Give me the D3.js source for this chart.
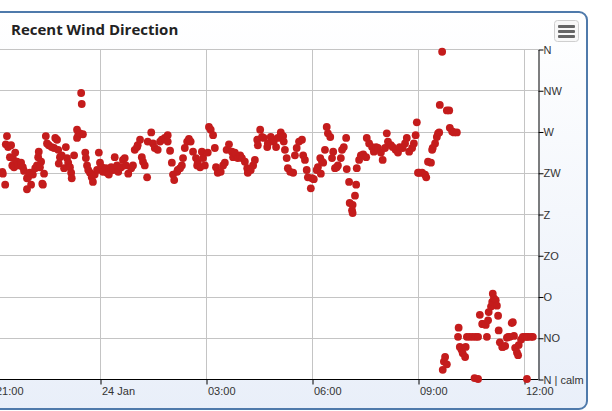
<!DOCTYPE html>
<html>
<head>
<meta charset="utf-8">
<script src="https://cdn.jsdelivr.net/npm/d3@7"></script>
<style>
  html, body { margin: 0; padding: 0; background: #ffffff; }
  svg { display: block; }
</style>
</head>
<body>
<svg id="chart" width="612" height="411"></svg>
<script>
// ---------------- data ----------------
const chartTitle = "Recent Wind Direction";
// time of each reading, in minutes after 23 Jan 21:00
const minutesSince2100 = [
  14,15,19,22,20,24,29,27,32,36,31,34,39,41,46,49,51,56,58,56,63,61,66,70,73,75,76,80,78,82,83,85,
  88,90,93,98,102,104,107,109,112,115,110,119,122,124,126,129,131,132,136,141,143,141,146,151,148,149,
  155,156,158,160,163,166,168,171,175,178,180,183,185,190,192,195,199,202,205,209,211,216,219,222,224,
  228,233,236,239,243,244,
  248,251,253,256,260,261,267,270,273,278,282,285,290,295,295,299,302,304,306,311,312,316,319,321,324,
  328,331,334,338,343,345,346,350,353,355,358,363,365,368,372,375,377,380,385,389,392,395,399,404,406,
  409,414,418,421,426,430,431,436,440,443,447,448,452,455,458,464,465,470,474,
  475,479,482,487,491,492,494,497,499,503,508,511,514,518,523,525,528,531,533,540,543,538,548,550,554,
  557,559,555,562,565,567,571,574,576,579,582,584,589,591,594,598,599,603,604,608,609,609,613,615,616,
  620,623,627,632,633,637,642,645,649,652,657,660,664,667,669,674,677,682,686,689,694,698,701,705,710,
  713,716,718,720,
  722,727,732,734,737,742,744,745,749,752,754,756,757,761,769,773,774,778,781,786,
  762,764,766,769,788,789,791,794,796,800,801,803,808,813,818,822,816,822,825,829,830,835,837,839,840,
  844,846,847,849,852,854,856,857,859,863,864,868,871,873,876,879,881,883,885,888,890,891,895,898,902,
  905,907,912,915,905
];
// wind direction of each reading, in degrees (0 = N / calm, 360 = N)
const directionDeg = [
  226,224,212,265,256,253,255,242,241,247,233,231,237,233,236,231,227,219,220,207,212,225,223,230,233,242,248,237,231,213,212,224,
  265,257,255,253,252,263,261,250,242,244,235,230,253,241,236,231,225,219,244,272,266,263,268,267,312,300,
  247,241,233,228,225,220,215,223,228,247,236,231,226,230,225,223,231,228,242,233,226,231,239,241,233,
  224,230,233,250,253,255,
  261,242,237,233,220,259,269,257,252,250,259,261,263,266,259,249,236,223,217,226,228,230,233,241,252,
  259,262,259,248,241,233,236,231,248,241,233,247,275,272,266,252,231,225,226,233,236,250,256,248,242,
  247,241,244,241,237,230,225,228,233,239,261,255,272,264,263,253,257,264,261,
  259,253,263,269,265,259,250,241,230,226,225,244,252,259,261,244,239,228,220,219,218,208,228,231,241,
  237,236,224,250,275,268,264,241,248,230,231,233,241,250,253,263,229,215,192,184,181,190,200,212,230,
  239,244,245,242,263,257,253,248,253,252,247,239,252,268,259,255,253,250,247,253,252,257,263,248,252,
  257,266,280,225,
  225,225,223,220,237,236,250,252,257,264,268,269,299,357,293,293,274,270,269,269,
  10,19,24,16,46,56,35,32,28,24,35,46,46,46,46,46,1,0,70,60,60,59,46,64,73,
  79,84,93,88,86,80,69,53,40,35,35,36,45,46,46,61,62,47,34,29,26,37,43,46,46,
  46,46,46,46,0
];
// axis labels
const directionTickValues = [0, 45, 90, 135, 180, 225, 270, 315, 360];
const directionTickLabels = ["N | calm", "NO", "O", "ZO", "Z", "ZW", "W", "NW", "N"];
const timeTickHours = ["21:00", "24 Jan", "03:00", "06:00", "09:00", "12:00"];

// ---------------- layout ----------------
const svg = d3.select("#chart");
const plotLeft = -60, plotRight = 538, plotTop = 49, plotBottom = 379;
const start = new Date(2024, 0, 23, 21, 0);
const t = m => new Date(start.getTime() + m * 60000);

const x = d3.scaleTime()
  .domain([new Date(2024, 0, 23, 21, 0), new Date(2024, 0, 24, 12, 0)])
  .range([-6, 524]);
const y = d3.scaleLinear().domain([0, 360]).range([plotBottom, plotTop]);

const points = minutesSince2100.map((m, i) => ({ time: t(m), dir: directionDeg[i] }));

// card background
const defs = svg.append("defs");
const grad = defs.append("linearGradient").attr("id", "bg").attr("x1", 0).attr("y1", 0).attr("x2", 0).attr("y2", 1);
grad.append("stop").attr("offset", "0%").attr("stop-color", "#ffffff");
grad.append("stop").attr("offset", "100%").attr("stop-color", "#e9eff9");

svg.append("rect")
  .attr("x", -30).attr("y", 12).attr("width", 617).attr("height", 397)
  .attr("rx", 8).attr("ry", 8)
  .attr("fill", "url(#bg)").attr("stroke", "#4f7aab").attr("stroke-width", 2);

// title
svg.append("text")
  .attr("x", 11).attr("y", 35)
  .attr("font-family", "'Open Sans', sans-serif").attr("font-weight", 700).attr("font-size", 15)
  .attr("fill", "#222").text(chartTitle);

// menu button
const menu = svg.append("g");
menu.append("rect").attr("x", 554.5).attr("y", 20.5).attr("width", 24).attr("height", 21).attr("rx", 3)
  .attr("fill", "#f8f8f8").attr("stroke", "#cfcfcf");
[25, 30, 35].forEach(yy => menu.append("rect").attr("x", 558).attr("y", yy).attr("width", 17).attr("height", 3)
  .attr("rx", 1).attr("fill", "#666"));

// plot area
svg.append("rect").attr("x", plotLeft).attr("y", plotTop)
  .attr("width", plotRight - plotLeft).attr("height", plotBottom - plotTop).attr("fill", "#ffffff");

const timeTicks = d3.timeHour.every(3).range(new Date(2024, 0, 23, 21, 0), new Date(2024, 0, 24, 12, 1));

// grid
svg.append("g").selectAll("line").data(directionTickValues).join("line")
  .attr("x1", plotLeft).attr("x2", plotRight)
  .attr("y1", d => Math.round(y(d)) + 0.5).attr("y2", d => Math.round(y(d)) + 0.5)
  .attr("stroke", "#c4c4c4").attr("stroke-width", 1);
svg.append("g").selectAll("line").data(timeTicks).join("line")
  .attr("x1", d => Math.round(x(d)) + 0.5).attr("x2", d => Math.round(x(d)) + 0.5)
  .attr("y1", plotTop).attr("y2", plotBottom)
  .attr("stroke", "#c4c4c4").attr("stroke-width", 1);

// x axis
const xAxis = d3.axisBottom(x).tickValues(timeTicks)
  .tickFormat((d, i) => timeTickHours[i]).tickSize(5).tickSizeOuter(0);
const gx = svg.append("g").attr("transform", `translate(0.5,${plotBottom + 0.5})`).call(xAxis);
gx.select(".domain").attr("d", `M${plotLeft},0H${plotRight - 0.5}`).attr("stroke", "#000");
gx.selectAll(".tick line").attr("stroke", "#000");
gx.selectAll(".tick text")
  .attr("text-anchor", "start").attr("x", 1).attr("y", 8).attr("dy", "0.71em")
  .attr("font-family", "'Liberation Sans', Arial, sans-serif").attr("font-size", 11).attr("fill", "#333");

// y axis (right)
const yAxis = d3.axisRight(y).tickValues(directionTickValues)
  .tickFormat((d, i) => directionTickLabels[i]).tickSize(5).tickSizeOuter(0);
const gy = svg.append("g").attr("transform", `translate(${plotRight + 0.5},0.5)`).call(yAxis);
gy.select(".domain").attr("stroke", "#000");
gy.selectAll(".tick line").attr("stroke", "#000");
gy.selectAll(".tick text").attr("x", 5)
  .attr("font-family", "'Liberation Sans', Arial, sans-serif").attr("font-size", 11).attr("fill", "#333");

// points
svg.append("g").selectAll("circle").data(points).join("circle")
  .attr("cx", d => x(d.time)).attr("cy", d => y(d.dir))
  .attr("r", 3.9).attr("fill", "#c41c1c");
</script>
</body>
</html>
